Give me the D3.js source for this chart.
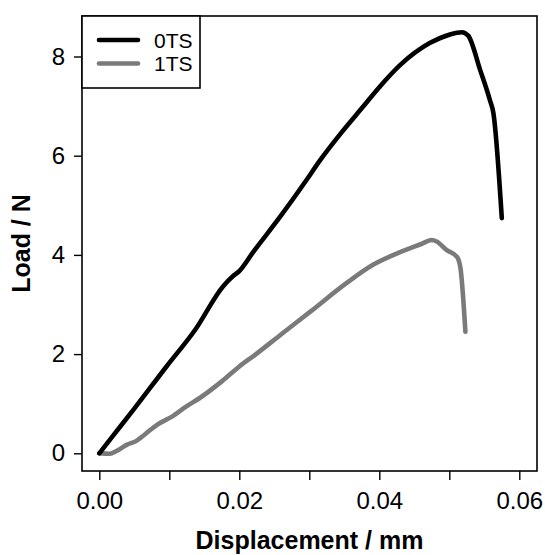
<!DOCTYPE html>
<html>
<head>
<meta charset="utf-8">
<script src="https://cdn.jsdelivr.net/npm/d3@7"></script>
<style>
  body { margin: 0; background: #fff; }
  svg text { font-family: "Liberation Sans", Arial, sans-serif; }
</style>
</head>
<body>
<svg id="chart" width="545" height="555"></svg>
<script>
// displacement (mm), load (N)
const disp0TS = [0, 0.002, 0.005, 0.0096, 0.0137, 0.0177, 0.019, 0.0199, 0.022, 0.026, 0.0296, 0.0315, 0.0345, 0.0377, 0.040, 0.043, 0.0472, 0.050, 0.0518, 0.0527, 0.0544, 0.0558, 0.0563, 0.0575];
const load0TS = [0, 0.36, 0.9, 1.75, 2.49, 3.37, 3.56, 3.66, 4.06, 4.8, 5.51, 5.9, 6.45, 6.99, 7.38, 7.83, 8.27, 8.44, 8.49, 8.42, 7.73, 7.12, 6.86, 4.74];

const disp1TS = [0, 0.0015, 0.0025, 0.0039, 0.0053, 0.0065, 0.0082, 0.0105, 0.0125, 0.0144, 0.0175, 0.020, 0.0222, 0.026, 0.0301, 0.0353, 0.0391, 0.0427, 0.046, 0.0475, 0.0482, 0.0496, 0.0511, 0.0516, 0.0523];
const load1TS = [0, -0.01, 0.05, 0.17, 0.25, 0.38, 0.57, 0.75, 0.95, 1.12, 1.45, 1.75, 1.98, 2.4, 2.85, 3.43, 3.8, 4.04, 4.22, 4.30, 4.27, 4.10, 3.96, 3.73, 2.45];

const seriesNames = ["0TS", "1TS"];
const seriesColors = ["#000000", "#7a7a7a"];
const xTicks = [0, 0.01, 0.02, 0.03, 0.04, 0.05, 0.06];
const xTickLabels = ["0.00", "", "0.02", "", "0.04", "", "0.06"];
const yTicks = [0, 2, 4, 6, 8];

const svg = d3.select("#chart");
const box = {left: 82, right: 537, top: 16, bottom: 471};

const x = d3.scaleLinear().domain([0, 0.06]).range([99.3, 519.3]);
const y = d3.scaleLinear().domain([0, 8]).range([453.3, 56.5]);

const series = [
    disp0TS.map((d, i) => [d, load0TS[i]]),
    disp1TS.map((d, i) => [d, load1TS[i]])
];

const line = d3.line()
    .x(d => x(d[0]))
    .y(d => y(d[1]))
    .curve(d3.curveMonotoneX);

// curves (1TS underneath)
svg.selectAll("path.curve")
    .data([1, 0])
    .enter().append("path")
    .attr("class", "curve")
    .attr("d", i => line(series[i]))
    .style("fill", "none")
    .style("stroke", i => seriesColors[i])
    .style("stroke-width", 4.6)
    .style("stroke-linejoin", "round")
    .style("stroke-linecap", "round");

// frame
svg.append("rect")
    .attr("x", box.left).attr("y", box.top)
    .attr("width", box.right - box.left).attr("height", box.bottom - box.top)
    .style("fill", "none").style("stroke", "#000").style("stroke-width", 1.6);

// x axis
const xAxis = d3.axisBottom(x)
    .tickValues(xTicks)
    .tickSize(9)
    .tickPadding(12)
    .tickFormat((d, i) => xTickLabels[i]);
const gx = svg.append("g")
    .attr("transform", "translate(0," + box.bottom + ")")
    .call(xAxis);
gx.select(".domain").remove();
gx.selectAll("line").style("stroke", "#000").style("stroke-width", 1.4);
gx.selectAll("text").style("font-size", "24px").style("fill", "#000");

// y axis
const yAxis = d3.axisLeft(y)
    .tickValues(yTicks)
    .tickSize(8)
    .tickPadding(9)
    .tickFormat(d3.format("d"));
const gy = svg.append("g")
    .attr("transform", "translate(" + box.left + ",0)")
    .call(yAxis);
gy.select(".domain").remove();
gy.selectAll("line").style("stroke", "#000").style("stroke-width", 1.4);
gy.selectAll("text").style("font-size", "24px").style("fill", "#000");

// axis titles
svg.append("text")
    .attr("x", (box.left + box.right) / 2)
    .attr("y", 549)
    .attr("text-anchor", "middle")
    .style("font-size", "25px")
    .style("font-weight", "bold")
    .text("Displacement / mm");

svg.append("text")
    .attr("transform", "translate(30," + (box.top + box.bottom) / 2 + ") rotate(-90)")
    .attr("text-anchor", "middle")
    .style("font-size", "25px")
    .style("font-weight", "bold")
    .text("Load / N");

// legend
svg.append("rect")
    .attr("x", box.left).attr("y", box.top)
    .attr("width", 118).attr("height", 72)
    .style("fill", "#fff").style("stroke", "#000").style("stroke-width", 1.6);

const legend = svg.selectAll(".legend")
    .data(seriesNames)
    .enter().append("g")
    .attr("class", "legend")
    .attr("transform", (d, i) => "translate(0," + (40 + i * 23.5) + ")");

legend.append("line")
    .attr("x1", 99).attr("x2", 138)
    .style("stroke", (d, i) => seriesColors[i])
    .style("stroke-width", 4.6)
    .style("stroke-linecap", "round");

legend.append("text")
    .attr("x", 154)
    .attr("y", 7.5)
    .style("font-size", "21px")
    .text(d => d);
</script>
</body>
</html>
